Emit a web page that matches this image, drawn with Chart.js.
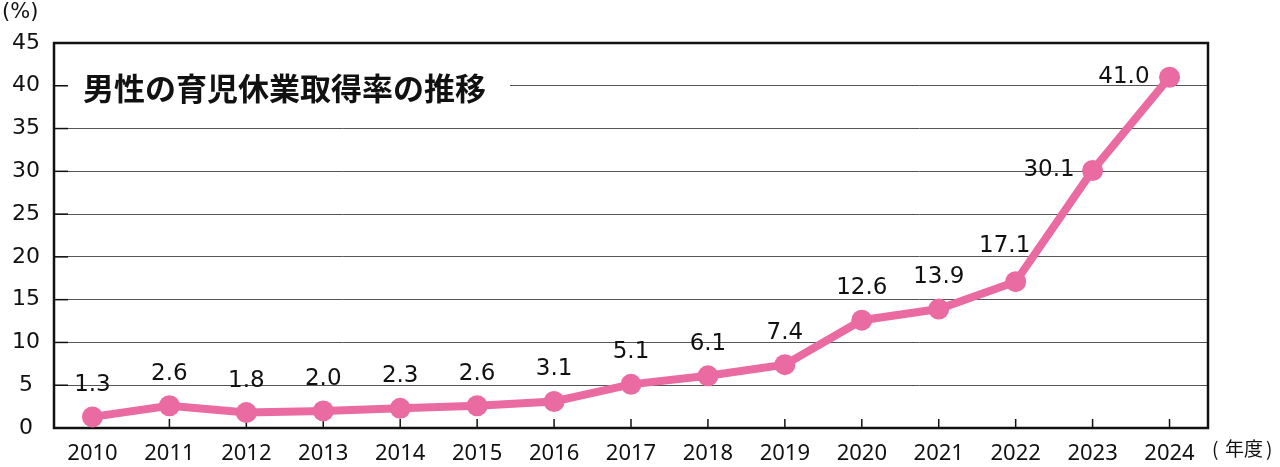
<!DOCTYPE html>
<html><head><meta charset="utf-8">
<script src="https://cdn.jsdelivr.net/npm/chart.js@4"></script>
<style>html,body{margin:0;padding:0;background:#fff}#wrap{width:1280px;height:467px}</style>
</head><body><div id="wrap"><canvas id="c"></canvas></div>
<script>
const categories = ['2010','2011','2012','2013','2014','2015','2016','2017','2018','2019','2020','2021','2022','2023','2024'];
const rates = [1.3,2.6,1.8,2.0,2.3,2.6,3.1,5.1,6.1,7.4,12.6,13.9,17.1,30.1,41.0];
const rateLabels = ['1.3','2.6','1.8','2.0','2.3','2.6','3.1','5.1','6.1','7.4','12.6','13.9','17.1','30.1','41.0'];
const yTicks = [0,5,10,15,20,25,30,35,40,45];
const chartTitle = '男性の育児休業取得率の推移';
const yUnit = '(%)';
const xUnitParts = ['(', '年度', ')'];

const PINK = '#E96BA2';
const FONT = "'DejaVu Sans', 'Noto Sans CJK JP', sans-serif";
const XFONT = "'Noto Sans', 'Noto Sans CJK JP', sans-serif";

const deco = {
  id: 'deco',
  beforeDatasetsDraw(chart) {
    const {ctx, chartArea: a, scales} = chart;
    ctx.save();
    ctx.fillStyle = '#fff';
    ctx.fillRect(a.left + 14, a.top + 26, 442, 40);
    ctx.fillStyle = '#111';
    ctx.font = "bold 31px 'Noto Sans CJK JP', sans-serif";
    ctx.textBaseline = 'middle';
    ctx.textAlign = 'left';
    ctx.fillText(chartTitle, a.left + 29, a.top + 45);
    ctx.strokeStyle = '#111';
    ctx.lineWidth = 1.5;
    categories.forEach((c, i) => {
      const x = scales.x.getPixelForValue(i);
      ctx.beginPath(); ctx.moveTo(x, a.bottom); ctx.lineTo(x, a.bottom - 9); ctx.stroke();
    });
    yTicks.forEach(v => {
      const y = scales.y.getPixelForValue(v);
      ctx.beginPath(); ctx.moveTo(a.left, y); ctx.lineTo(a.left + 14, y); ctx.stroke();
    });
    ctx.lineWidth = 2.5;
    ctx.strokeRect(a.left, a.top, a.right - a.left, a.bottom - a.top);
    ctx.restore();
  },
  afterDatasetsDraw(chart) {
    const {ctx, chartArea: a} = chart;
    const meta = chart.getDatasetMeta(0);
    ctx.save();
    ctx.fillStyle = '#111';
    ctx.font = "23px " + FONT;
    ctx.textBaseline = 'middle';
    meta.data.forEach((pt, i) => {
      let x = pt.x, y = pt.y - 32, align = 'center';
      if (i === 13) { x = pt.x - 18; y = pt.y; align = 'right'; }
      else if (i === 14) { x = pt.x - 20; y = pt.y; align = 'right'; }
      else if (i === 12) { x = pt.x - 11; y = pt.y - 36; }
      ctx.textAlign = align;
      ctx.fillText(rateLabels[i], x, y);
    });
    ctx.font = "21px " + FONT;
    ctx.textAlign = 'left';
    ctx.fillText(yUnit, 2, 13);
    ctx.font = "19px 'Noto Sans CJK JP', sans-serif";
    ctx.fillText(xUnitParts[0], a.right + 4, 449);
    ctx.fillText(xUnitParts[1], a.right + 17, 449);
    ctx.fillText(xUnitParts[2], a.right + 58, 449);
    ctx.restore();
  }
};

new Chart(document.getElementById('c'), {
  type: 'line',
  data: {
    labels: categories,
    datasets: [{
      data: rates,
      borderColor: PINK,
      backgroundColor: PINK,
      borderWidth: 8,
      pointRadius: 10.5,
      pointBackgroundColor: PINK,
      pointBorderWidth: 0,
      tension: 0
    }]
  },
  options: {
    responsive: true,
    maintainAspectRatio: false,
    animation: false,
    events: [],
    layout: { padding: { top: 43, right: 72, left: 0, bottom: 0 } },
    plugins: { legend: { display: false }, tooltip: { enabled: false }, title: { display: false } },
    scales: {
      x: {
        offset: true,
        grid: { display: false, drawTicks: false },
        border: { display: false },
        ticks: { color: '#111', font: { family: XFONT, size: 22 }, padding: 13, maxRotation: 0 },
        afterFit(s) { s.height = 39; }
      },
      y: {
        min: 0, max: 45,
        afterBuildTicks(s) { s.ticks = yTicks.map(v => ({ value: v })); },
        grid: { color: '#555', lineWidth: 1, drawTicks: false },
        border: { display: false },
        ticks: { color: '#111', font: { family: FONT, size: 22 }, padding: 14, crossAlign: 'center' },
        afterFit(s) { s.width = 54; }
      }
    }
  },
  plugins: [deco]
});
</script></body></html>
